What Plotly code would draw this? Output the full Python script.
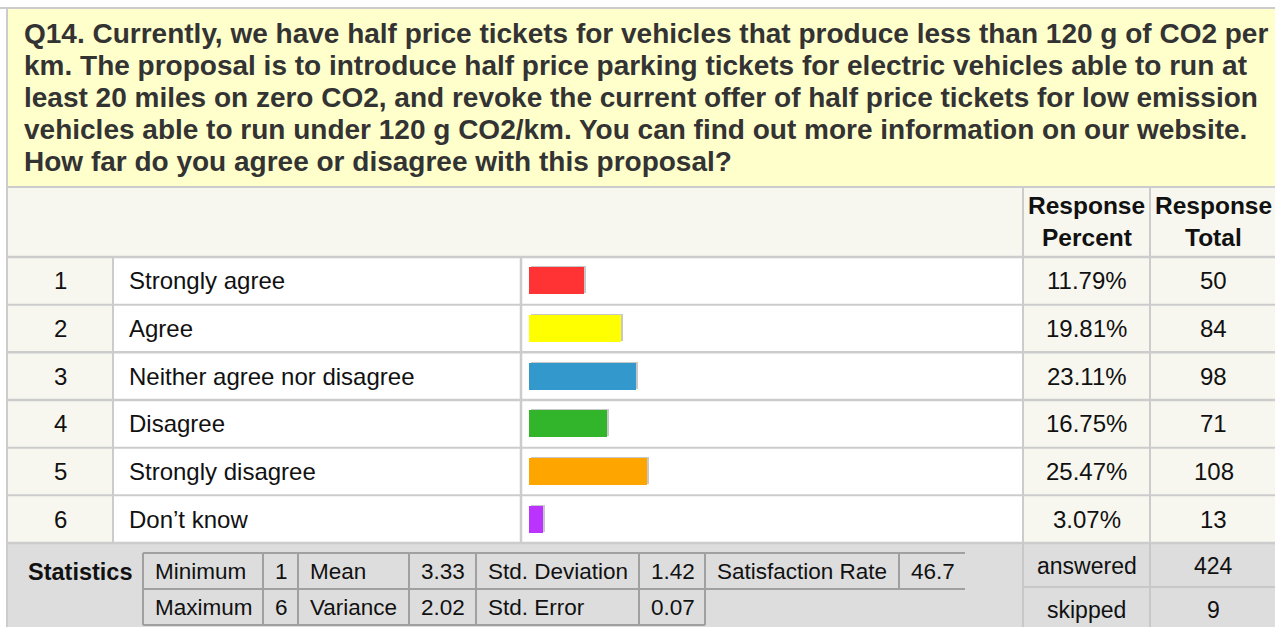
import plotly.graph_objects as go

# ---------------- data ----------------
question_lines = [
    "Q14. Currently, we have half price tickets for vehicles that produce less than 120 g of CO2 per",
    "km. The proposal is to introduce half price parking tickets for electric vehicles able to run at",
    "least 20 miles on zero CO2, and revoke the current offer of half price tickets for low emission",
    "vehicles able to run under 120 g CO2/km. You can find out more information on our website.",
    "How far do you agree or disagree with this proposal?",
]
numbers = ["1", "2", "3", "4", "5", "6"]
choices = ["Strongly agree", "Agree", "Neither agree nor disagree", "Disagree",
           "Strongly disagree", "Don\u2019t know"]
percents = [11.79, 19.81, 23.11, 16.75, 25.47, 3.07]
percent_labels = ["11.79%", "19.81%", "23.11%", "16.75%", "25.47%", "3.07%"]
totals = [50, 84, 98, 71, 108, 13]
bar_colors = ["#FF3333", "#FFFF00", "#3399CC", "#33B52B", "#FFA500", "#BB33FF"]

stat_row1 = [("Minimum", "1"), ("Mean", "3.33"), ("Std. Deviation", "1.42"), ("Satisfaction Rate", "46.7")]
stat_row2 = [("Maximum", "6"), ("Variance", "2.02"), ("Std. Error", "0.07")]
answered = 424
skipped = 9

# ---------------- style / geometry ----------------
W, H = 1275, 627
FONT = "Liberation Sans, Arial, sans-serif"
YEL = "#FFFFCC"
OFF = "#F7F7EF"
GRID = "#CCCCCC"
STATBG = "#DDDDDD"
STATLINE = "#A0A0A0"
TXT = "#111111"

L = 7            # left edge of table
TOP = 8
HDR_BOT = 188
ROW_TOP = 257
ROW_H = 47.67
ROWS_BOT = ROW_TOP + 6 * ROW_H
C1, C2, C3, C4 = 113, 521, 1023, 1150
BAR_X0 = 529
PX_PER_PCT = 4.63

shapes = []
annotations = []


def rect(x0, y0, x1, y1, fill):
    shapes.append(dict(type="rect", xref="x", yref="y", x0=x0, y0=y0, x1=x1, y1=y1,
                       fillcolor=fill, line=dict(width=0), layer="below"))


def line(x0, y0, x1, y1, color=GRID, width=2):
    shapes.append(dict(type="line", xref="x", yref="y", x0=x0, y0=y0, x1=x1, y1=y1,
                       line=dict(color=color, width=width), layer="below"))


def text(x, y, s, size=24, bold=False, anchor="left", color=TXT):
    annotations.append(dict(xref="x", yref="y", x=x, y=y, text=("<b>%s</b>" % s) if bold else s,
                            showarrow=False, xanchor=anchor, yanchor="middle",
                            font=dict(family=FONT, size=size, color=color)))


# backgrounds
rect(L, TOP, W, HDR_BOT, YEL)
rect(L, HDR_BOT, W, ROW_TOP, OFF)
rect(L, ROW_TOP, C1, ROWS_BOT, OFF)
rect(C1, ROW_TOP, C3, ROWS_BOT, "#FFFFFF")
rect(C3, ROW_TOP, W, ROWS_BOT, OFF)
rect(L, ROWS_BOT, W, H, STATBG)

# outer / header borders
line(0, TOP, W, TOP)
line(L, TOP, L, H)
line(L, HDR_BOT - 1, W, HDR_BOT - 1)
line(C3, HDR_BOT, C3, ROWS_BOT)
line(C4, HDR_BOT, C4, ROWS_BOT)
# row lines
for i in range(7):
    y = ROW_TOP + i * ROW_H
    line(L, y, W, y, width=2.5 if i in (0, 2, 3, 6) else 2)
line(C1, ROW_TOP, C1, ROWS_BOT)
line(C2, ROW_TOP, C2, ROWS_BOT, width=2.5)

# header text
q_y = [33.5, 65.5, 97.5, 129.0, 161.0]
for s, y in zip(question_lines, q_y):
    text(22, y, s, size=28, bold=True, color="#333333")
text((C3 + C4) / 2, 205, "Response", size=24.5, bold=True, anchor="center")
text((C3 + C4) / 2, 237, "Percent", size=24.5, bold=True, anchor="center")
text((C4 + W) / 2 + 1, 205, "Response", size=24.5, bold=True, anchor="center")
text((C4 + W) / 2 + 1, 237, "Total", size=24.5, bold=True, anchor="center")

# row text
for i in range(6):
    yc = ROW_TOP + (i + 0.5) * ROW_H
    text((L + C1) / 2, yc, numbers[i], anchor="center")
    text(127, yc, choices[i])
    text((C3 + C4) / 2, yc, percent_labels[i], anchor="center")
    text((C4 + W) / 2 + 1, yc, str(totals[i]), anchor="center")

# statistics block
text(26, 572, "Statistics", size=23.5, bold=True)
cells_x = [143, 263, 298, 409, 476, 639, 705, 899, 965]
r1, r2, r3 = 553, 589, 625
for k, (lab, val) in enumerate(stat_row1):
    text(cells_x[2 * k] + 10, (r1 + r2) / 2, lab, size=22.5)
    text(cells_x[2 * k + 1] + 10, (r1 + r2) / 2, val, size=22.5)
for k, (lab, val) in enumerate(stat_row2):
    text(cells_x[2 * k] + 10, (r2 + r3) / 2, lab, size=22.5)
    text(cells_x[2 * k + 1] + 10, (r2 + r3) / 2, val, size=22.5)
line(cells_x[0], r1, cells_x[-1], r1, STATLINE)
line(cells_x[0], r2, cells_x[-1], r2, STATLINE)
line(cells_x[0], r3, cells_x[6], r3, STATLINE)
for k, x in enumerate(cells_x[:-1]):
    line(x, r1, x, r3 if k < 7 else r2, STATLINE)

# answered / skipped
split = 587
line(C3, ROWS_BOT, C3, H, "#C8C8C8")
line(C4, ROWS_BOT, C4, H, "#C8C8C8")
line(C3, split, W, split, "#C8C8C8")
text((C3 + C4) / 2, 566, "answered", size=23)
text((C4 + W) / 2 + 1, 566, str(answered), size=23, anchor="center")
text((C3 + C4) / 2, 610, "skipped", size=23)
text((C4 + W) / 2 + 1, 610, str(skipped), size=23, anchor="center")
for a in annotations[-4:]:
    a["xanchor"] = "center"

# ---------------- bars ----------------
def px_x(x):
    return x / W


def px_y(y):
    return 1 - y / H


bar_x1 = BAR_X0 + 100 * PX_PER_PCT
dom_x = [px_x(BAR_X0), px_x(bar_x1)]
dom_y = [px_y(ROWS_BOT), px_y(ROW_TOP)]
sh_x = [px_x(BAR_X0 + 2), px_x(bar_x1 + 2)]
sh_y = [px_y(ROWS_BOT + 0) + 1.2 / H, px_y(ROW_TOP) + 1.2 / H]

fig = go.Figure()
fig.add_trace(go.Bar(x=percents, y=choices, orientation="h", xaxis="x2", yaxis="y2",
                     marker=dict(color="#C8C8C8", line=dict(width=0)), width=0.57,
                     hoverinfo="skip", showlegend=False))
fig.add_trace(go.Bar(x=percents, y=choices, orientation="h", xaxis="x3", yaxis="y3",
                     marker=dict(color=bar_colors, line=dict(width=0)), width=0.57,
                     hovertemplate="%{y}: %{x}%<extra></extra>", showlegend=False))

hidden = dict(visible=False, showgrid=False, zeroline=False, fixedrange=True)
fig.update_layout(
    width=W, height=H,
    margin=dict(l=0, r=0, t=0, b=0, pad=0),
    paper_bgcolor="white", plot_bgcolor="rgba(0,0,0,0)",
    xaxis=dict(range=[0, W], domain=[0, 1], **hidden),
    yaxis=dict(range=[H, 0], domain=[0, 1], **hidden),
    xaxis2=dict(range=[0, 100], domain=sh_x, anchor="y2", **hidden),
    yaxis2=dict(type="category", categoryarray=choices, range=[5.5, -0.5], domain=sh_y, anchor="x2", **hidden),
    xaxis3=dict(range=[0, 100], domain=dom_x, anchor="y3", **hidden),
    yaxis3=dict(type="category", categoryarray=choices, range=[5.5, -0.5], domain=dom_y, anchor="x3", **hidden),
    shapes=shapes,
    annotations=annotations,
    showlegend=False,
    bargap=0,
)

fig.write_html("out.html", config={"displayModeBar": False},
               post_script="document.body.style.margin='0';document.body.style.overflow='hidden';")
